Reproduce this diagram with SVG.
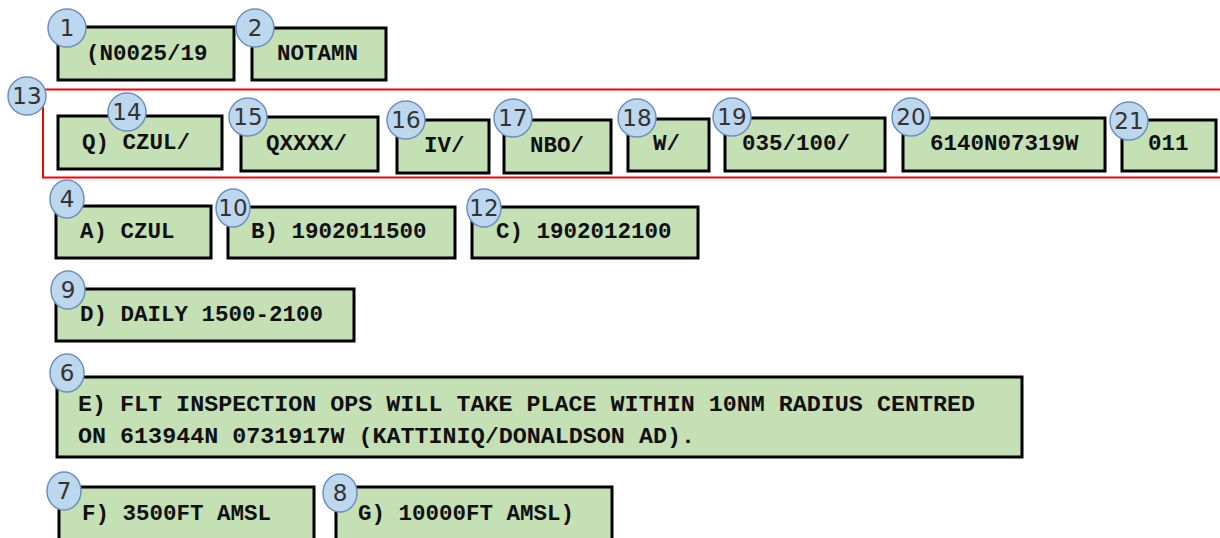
<svg xmlns="http://www.w3.org/2000/svg" width="1220" height="538" viewBox="0 0 1220 538">
<style>
.box{fill:#c5e0b4;stroke:#000;stroke-width:3}
.t{font-family:"Liberation Mono","Courier New",monospace;font-weight:bold;font-size:22.5px;fill:#111}
.c{fill:#bdd7ee;stroke:#6f8fbf;stroke-width:1.5}
.n{font-family:"DejaVu Sans","Liberation Sans",sans-serif;font-size:23px;fill:#333;text-anchor:middle}
</style>
<rect width="1220" height="538" fill="#fff"/>
<g id="n13">
<rect x="43" y="89.5" width="1190" height="88" fill="none" stroke="#f00" stroke-width="2"/>
<circle class="c" cx="27" cy="96" r="19"/><text class="n" x="27" y="104">13</text>
</g>
<g id="n1"><rect class="box" x="58" y="27" width="176" height="53"/><text class="t" x="86" y="60">(N0025/19</text>
<circle class="c" cx="67" cy="28" r="19"/><text class="n" x="67" y="36">1</text></g>
<g id="n2"><rect class="box" x="252" y="28" width="134" height="52"/><text class="t" x="277" y="60">NOTAMN</text>
<circle class="c" cx="255" cy="28" r="19"/><text class="n" x="255" y="36">2</text></g>
<g id="n14"><rect class="box" x="58" y="116" width="164" height="53"/><text class="t" x="82" y="149">Q) CZUL/</text>
<circle class="c" cx="127" cy="112" r="19"/><text class="n" x="127" y="120">14</text></g>
<g id="n15"><rect class="box" x="241" y="117" width="137" height="54"/><text class="t" x="266" y="150">QXXXX/</text>
<circle class="c" cx="248" cy="117" r="19"/><text class="n" x="248" y="125">15</text></g>
<g id="n16"><rect class="box" x="397" y="120" width="92" height="53"/><text class="t" x="424" y="152">IV/</text>
<circle class="c" cx="406" cy="120" r="19"/><text class="n" x="406" y="128">16</text></g>
<g id="n17"><rect class="box" x="504" y="120" width="107" height="53"/><text class="t" x="530" y="152">NBO/</text>
<circle class="c" cx="513" cy="118" r="19"/><text class="n" x="513" y="126">17</text></g>
<g id="n18"><rect class="box" x="628" y="119" width="81" height="52"/><text class="t" x="653" y="150">W/</text>
<circle class="c" cx="637" cy="118" r="19"/><text class="n" x="637" y="126">18</text></g>
<g id="n19"><rect class="box" x="725" y="118" width="160" height="53"/><text class="t" x="742" y="150">035/100/</text>
<circle class="c" cx="732" cy="117" r="19"/><text class="n" x="732" y="125">19</text></g>
<g id="n20"><rect class="box" x="903" y="118" width="202" height="53"/><text class="t" x="930" y="150">6140N07319W</text>
<circle class="c" cx="911" cy="117" r="19"/><text class="n" x="911" y="125">20</text></g>
<g id="n21"><rect class="box" x="1122" y="120" width="94" height="51"/><text class="t" x="1148" y="150">011</text>
<circle class="c" cx="1129" cy="121" r="19"/><text class="n" x="1129" y="129">21</text></g>
<g id="n4"><rect class="box" x="56" y="206" width="155" height="52"/><text class="t" x="80" y="238">A) CZUL</text>
<ellipse class="c" cx="67" cy="199" rx="17" ry="19"/><text class="n" x="67" y="207">4</text></g>
<g id="n10"><rect class="box" x="228" y="207" width="227" height="51"/><text class="t" x="251" y="238">B) 1902011500</text>
<ellipse class="c" cx="233" cy="208" rx="17" ry="19"/><text class="n" x="233" y="216">10</text></g>
<g id="n12"><rect class="box" x="472" y="207" width="226" height="51"/><text class="t" x="496" y="238">C) 1902012100</text>
<ellipse class="c" cx="484" cy="208" rx="17" ry="19"/><text class="n" x="484" y="216">12</text></g>
<g id="n9"><rect class="box" x="56" y="289" width="298" height="52"/><text class="t" x="80" y="321">D) DAILY 1500-2100</text>
<ellipse class="c" cx="68" cy="290" rx="17" ry="19"/><text class="n" x="68" y="298">9</text></g>
<g id="n6"><rect class="box" x="57" y="377" width="965" height="80"/>
<text class="t" x="78" y="411" textLength="897" lengthAdjust="spacingAndGlyphs">E) FLT INSPECTION OPS WILL TAKE PLACE WITHIN 10NM RADIUS CENTRED</text>
<text class="t" x="78" y="443" textLength="617" lengthAdjust="spacingAndGlyphs">ON 613944N 0731917W (KATTINIQ/DONALDSON AD).</text>
<ellipse class="c" cx="67" cy="373" rx="17" ry="19"/><text class="n" x="67" y="381">6</text></g>
<g id="n7"><rect class="box" x="59" y="487" width="255" height="60"/><text class="t" x="82" y="520">F) 3500FT AMSL</text>
<ellipse class="c" cx="64" cy="491" rx="17" ry="19"/><text class="n" x="64" y="499">7</text></g>
<g id="n8"><rect class="box" x="336" y="487" width="276" height="60"/><text class="t" x="358" y="520">G) 10000FT AMSL)</text>
<ellipse class="c" cx="340" cy="493" rx="17" ry="19"/><text class="n" x="340" y="501">8</text></g>
<g id="connectors"></g>
</svg>
